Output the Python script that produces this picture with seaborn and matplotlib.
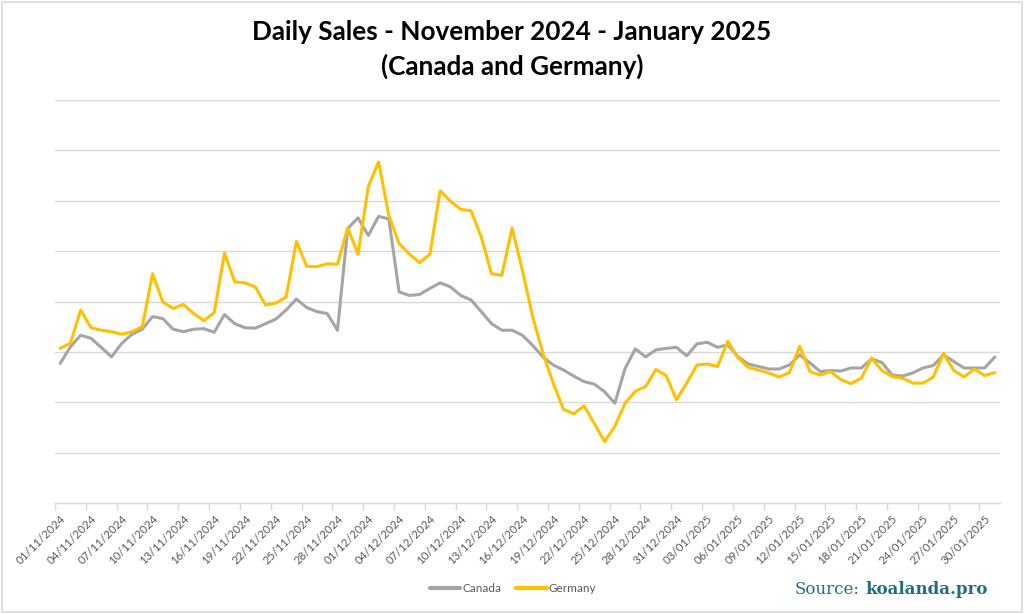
import matplotlib
matplotlib.use("Agg")
import matplotlib.pyplot as plt
import seaborn as sns
import pandas as pd
import numpy as np
from matplotlib.patches import Rectangle
from matplotlib.lines import Line2D

# ---- data ----
dates = pd.date_range("2024-11-01", "2025-01-31", freq="D").strftime("%d/%m/%Y").tolist()

canada = [277, 310, 333, 327, 309, 290, 317, 335, 345, 370, 366, 345, 340, 345, 346,
          339, 374, 356, 348, 347, 356, 365, 383, 405, 388, 380, 376, 343, 545, 566,
          531, 569, 564, 419, 412, 414, 426, 437, 429, 412, 403, 380, 356, 343, 343,
          333, 313, 290, 274, 264, 252, 241, 236, 221, 198, 267, 306, 290, 304, 307, 309,
          292, 316, 319, 309, 314, 290, 276, 271, 266, 266, 274, 294, 278, 261, 263,
          262, 268, 268, 286, 279, 254, 252, 258, 268, 273, 294, 281, 268, 268, 268, 290]

germany = [307, 317, 383, 348, 343, 340, 335, 340, 350, 455, 399, 386, 394, 376, 362,
           378, 496, 439, 437, 429, 393, 397, 409, 519, 470, 469, 475, 474, 546, 494,
           628, 677, 571, 515, 494, 477, 494, 620, 599, 583, 580, 528, 455, 452, 546,
           462, 370, 297, 238, 186, 177, 193, 158, 122, 152, 198, 222, 231, 265, 253, 205,
           238, 274, 276, 271, 321, 288, 269, 264, 258, 250, 259, 311, 261, 254, 261,
           245, 237, 248, 288, 263, 251, 248, 238, 238, 250, 297, 263, 250, 266, 253, 259]

series_names = ["Canada", "Germany"]
colors = {"Canada": "#A5A5A5", "Germany": "#FFC000"}

title_line1 = "Daily Sales - November 2024 - January 2025"
title_line2 = "(Canada and Germany)"
source_label = "Source:"
source_site = "koalanda.pro"

# ---- build table ----
n = len(dates)
df = pd.DataFrame({
    "idx": list(range(n)) * 2,
    "value": canada + germany,
    "Country": [series_names[0]] * n + [series_names[1]] * n,
})

sns.set_theme(style="white")
plt.rcParams["font.family"] = ["Lato", "DejaVu Sans"]

W, H = 1024, 614
fig = plt.figure(figsize=(W / 100, H / 100), dpi=100)
ax = fig.add_axes([55 / W, 1 - 503 / H, 945 / W, 403 / H])

sns.lineplot(data=df, x="idx", y="value", hue="Country", palette=colors,
             linewidth=2.2, ax=ax, legend=False, estimator=None, sort=False)

ax.set_xlim(-0.5, n - 0.5)
ax.set_ylim(0, 800)
ax.set_yticks(np.arange(100, 801, 100))
ax.yaxis.grid(True, color="#D9D9D9", linewidth=1.0)
ax.tick_params(axis="y", left=False, labelleft=False)
ax.set_xlabel("")
ax.set_ylabel("")

for s in ["top", "right", "left"]:
    ax.spines[s].set_visible(False)
ax.spines["bottom"].set_color("#D9D9D9")
ax.spines["bottom"].set_linewidth(1.0)

# tick marks at category boundaries, labels at category centres
ax.set_xticks(np.arange(-0.5, n - 1, 3))
ax.set_xticklabels([])
ax.tick_params(axis="x", which="major", length=5, color="#D9D9D9", width=1, bottom=True)
centres = np.arange(0, n, 3)
ax.set_xticks(centres, minor=True)
ax.set_xticklabels([dates[i] for i in centres], minor=True, rotation=45,
                   ha="right", rotation_mode="anchor", fontsize=8.3, color="#595959")
ax.tick_params(axis="x", which="minor", length=0, pad=7)

# title
fig.text(0.5, 1 - 32 / H, title_line1, ha="center", va="center",
         fontsize=18.8, fontweight="bold", color="black")
fig.text(0.5, 1 - 66 / H, title_line2, ha="center", va="center",
         fontsize=18.8, fontweight="bold", color="black")

# legend
handles = [Line2D([0], [0], color=colors[s], linewidth=3) for s in series_names]
leg = fig.legend(handles, series_names, loc="center", bbox_to_anchor=(513 / W, 1 - 589 / H),
                 ncol=2, frameon=False, fontsize=8.5, handlelength=2.6, handletextpad=0.2,
                 columnspacing=1.2)
for t in leg.get_texts():
    t.set_color("#595959")

# source
site = fig.text(988 / W, 1 - 589 / H, source_site, ha="right", va="center",
                fontsize=12, fontweight="bold", color="#1F6E80", family="DejaVu Serif")
fig.canvas.draw()
bb = site.get_window_extent(renderer=fig.canvas.get_renderer())
fig.text((bb.x0 - 6) / W, 1 - 589 / H, source_label, ha="right", va="center",
         fontsize=12, color="#1F6E80", family="DejaVu Serif")

# outer frame
fig.patches.append(Rectangle((0.002, 0.003), 0.996, 0.994, transform=fig.transFigure,
                             fill=False, edgecolor="#D9D9D9", linewidth=1.2))

fig.savefig("out.png", dpi=100)
